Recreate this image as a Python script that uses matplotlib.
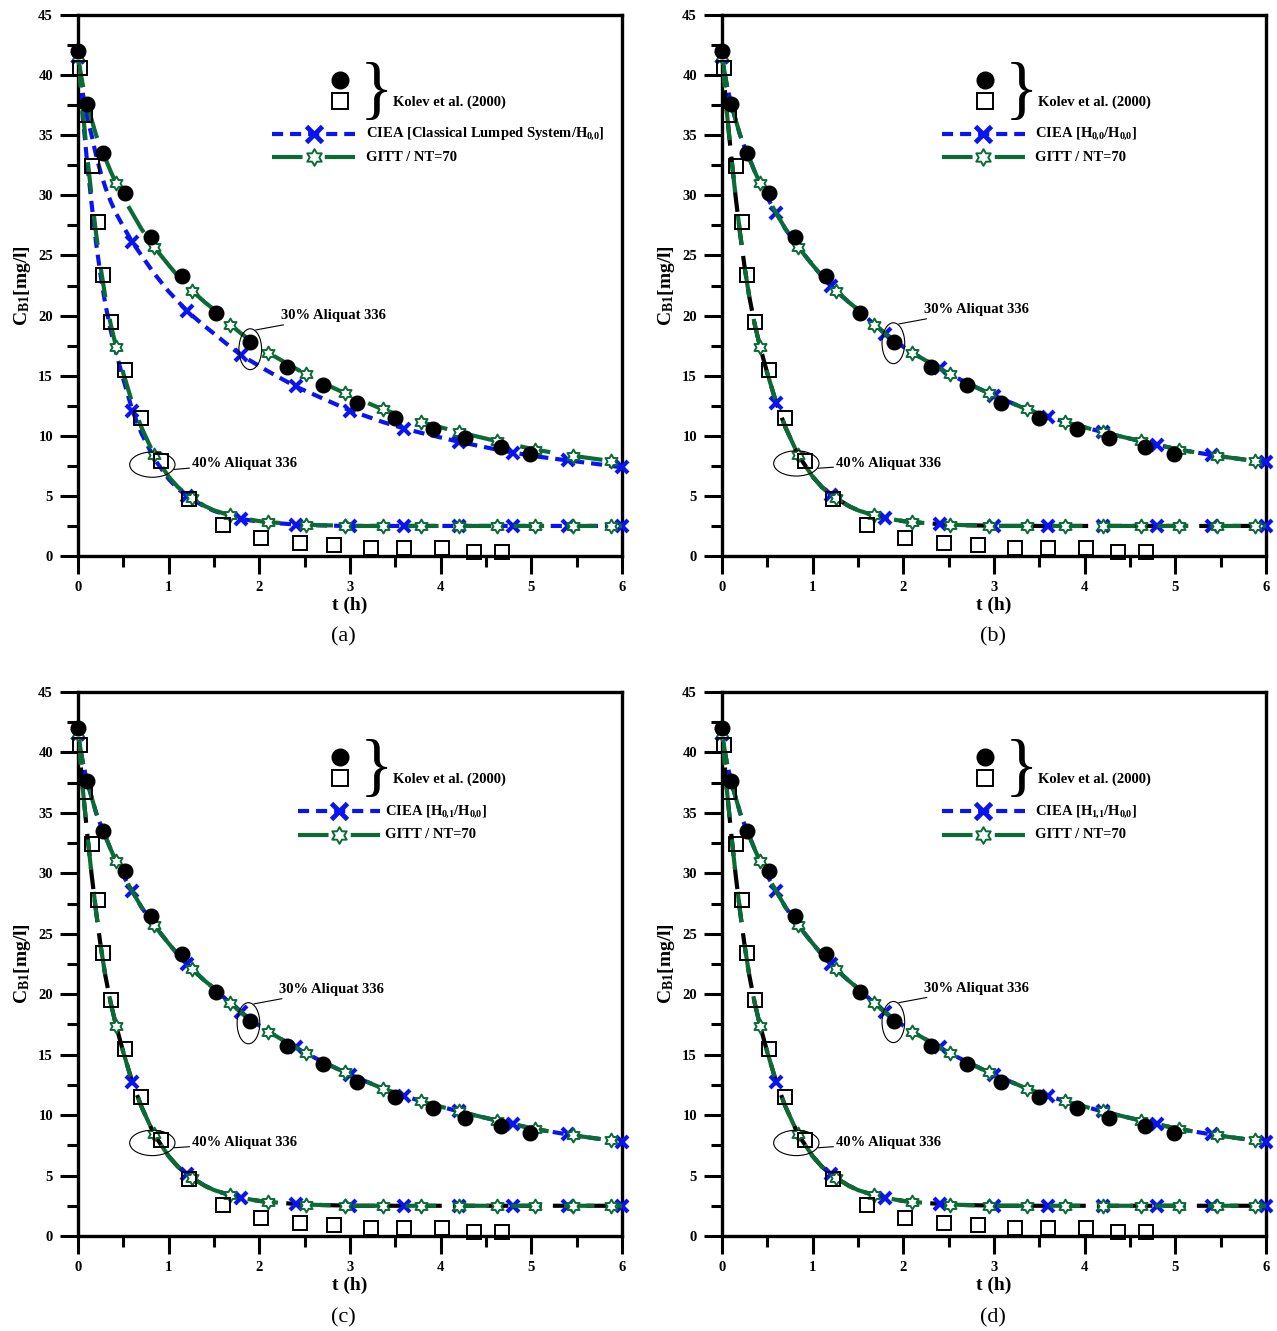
import numpy as np
import matplotlib
matplotlib.use('Agg')
import matplotlib.pyplot as plt
from matplotlib.path import Path
from matplotlib.patches import Ellipse

plt.rcParams['font.family'] = ['Liberation Serif', 'DejaVu Serif']
plt.rcParams['mathtext.fontset'] = 'custom'
plt.rcParams['mathtext.rm'] = 'Liberation Serif:bold'
plt.rcParams['mathtext.it'] = 'Liberation Serif:italic:bold'
plt.rcParams['mathtext.bf'] = 'Liberation Serif:bold'
plt.rcParams['lines.scale_dashes'] = False

# ---------------- data ----------------
# Kolev et al. (2000) experimental points
t_exp30 = [0.0, 0.1, 0.28, 0.52, 0.8, 1.15, 1.52, 1.9, 2.3, 2.7, 3.08, 3.5, 3.92, 4.27, 4.67, 4.98]
c_exp30 = [42.0, 37.6, 33.5, 30.2, 26.5, 23.3, 20.2, 17.8, 15.7, 14.2, 12.7, 11.5, 10.6, 9.8, 9.1, 8.5]
t_exp40 = [0.02, 0.08, 0.15, 0.22, 0.28, 0.36, 0.52, 0.7, 0.92, 1.22, 1.6, 2.02, 2.45, 2.82,
           3.23, 3.6, 4.02, 4.37, 4.68]
c_exp40 = [40.6, 36.7, 32.4, 27.8, 23.4, 19.5, 15.5, 11.5, 7.9, 4.7, 2.6, 1.5, 1.1, 0.9,
           0.7, 0.7, 0.7, 0.3, 0.3]

# model curves (time grid in h)
t_model = [0.0, 0.05, 0.1, 0.15, 0.2, 0.25, 0.3, 0.36, 0.42, 0.5, 0.6, 0.7, 0.84, 1.0, 1.1,
           1.2, 1.26, 1.4, 1.5, 1.68, 1.8, 2.0, 2.1, 2.4, 2.52, 2.7, 2.94, 3.0, 3.36, 3.6,
           3.78, 4.2, 4.62, 4.8, 5.04, 5.4, 5.46, 5.88, 6.0]
# GITT / NT=70 (also the CIEA H-formulations of panels b-d, which overlap it)
c30_gitt = [41.5, 39.3, 37.6, 36.3, 35.0, 34.0, 33.1, 32.0, 31.0, 29.8, 28.5, 27.2, 25.7, 24.2,
            23.3, 22.5, 22.05, 21.1, 20.5, 19.25, 18.5, 17.4, 16.9, 15.6, 15.1, 14.4, 13.55,
            13.35, 12.2, 11.6, 11.15, 10.3, 9.55, 9.25, 8.85, 8.4, 8.33, 7.9, 7.78]
c40_gitt = [41.5, 37.2, 33.4, 29.9, 26.8, 24.0, 21.6, 19.3, 17.4, 15.2, 12.7, 10.7, 8.4, 6.6,
            5.75, 5.1, 4.8, 4.15, 3.8, 3.37, 3.15, 2.9, 2.82, 2.65, 2.6, 2.56, 2.52, 2.5, 2.5,
            2.5, 2.5, 2.5, 2.5, 2.5, 2.5, 2.5, 2.5, 2.5, 2.5]
# CIEA classical lumped system (panel a)
c30_classical = [41.5, 38.6, 36.5, 35.0, 33.3, 31.9, 30.7, 29.5, 28.5, 27.4, 26.1, 25.0, 23.5,
                 22.0, 21.2, 20.4, 20.0, 19.1, 18.5, 17.4, 16.7, 15.8, 15.35, 14.1, 13.7, 13.1,
                 12.3, 12.1, 11.15, 10.6, 10.25, 9.5, 8.85, 8.6, 8.3, 7.95, 7.9, 7.5, 7.37]
c40_classical = [41.5, 36.8, 32.8, 29.3, 26.0, 23.3, 21.0, 18.8, 16.9, 14.7, 12.1, 10.2, 8.1,
                 6.4, 5.6, 5.0, 4.7, 4.1, 3.75, 3.33, 3.08, 2.85, 2.78, 2.62, 2.58, 2.54, 2.5,
                 2.5, 2.5, 2.5, 2.5, 2.5, 2.5, 2.5, 2.5, 2.5, 2.5, 2.5, 2.5]

x_ticks = [0, 1, 2, 3, 4, 5, 6]
y_ticks = [0, 5, 10, 15, 20, 25, 30, 35, 40, 45]
panel_tags = ['(a)', '(b)', '(c)', '(d)']
ciea_labels = ['CIEA [Classical Lumped System/H$_{0\\!,\\!0}$]',
               'CIEA [H$_{0\\!,\\!0}$/H$_{0\\!,\\!0}$]',
               'CIEA [H$_{0\\!,\\!1}$/H$_{0\\!,\\!0}$]',
               'CIEA [H$_{1\\!,\\!1}$/H$_{0\\!,\\!0}$]']
gitt_label = 'GITT / NT=70'
kolev_label = 'Kolev et al. (2000)'

# ---------------- styling ----------------
W, H = 1277, 1331
fig = plt.figure(figsize=(W / 100, H / 100), dpi=100)

blue = '#0a14f0'
green = '#0b6b35'

ang = np.linspace(0, 2 * np.pi, 13)[:-1] + np.pi / 2
rad = np.where(np.arange(12) % 2 == 0, 1.0, 0.577)
star_verts = np.column_stack([rad * np.cos(ang), rad * np.sin(ang)])
star_verts = np.vstack([star_verts, star_verts[:1]])
star_marker = Path(star_verts, closed=True)

star_times = [0.0, 0.42, 0.84, 1.26, 1.68, 2.1, 2.52, 2.94, 3.36, 3.78, 4.2, 4.62, 5.04, 5.46, 5.88]
x_times = [0.0, 0.6, 1.2, 1.8, 2.4, 3.0, 3.6, 4.2, 4.8, 5.4, 6.0]
star_idx = [i for i, t in enumerate(t_model) if t in star_times]
x_idx = [i for i, t in enumerate(t_model) if t in x_times]

blue_dash = (0, (8, 5))
black_dash = (0, (16, 8))
green_dash = (0, (22, 16))

# axes rectangles in pixels: left, top(45), width, height
rects = [(78, 15, 544, 541), (722, 15, 544, 541), (78, 692, 544, 544), (722, 692, 544, 544)]
tag_pos = [(343, 637), (993, 637), (343, 1318), (993, 1318)]
# legend anchors (axes fraction): marker x, line x0, x1, text x
leg_cfg = [(0.482, 0.357, 0.509, 0.529), (0.483, 0.404, 0.557, 0.575),
           (0.482, 0.404, 0.555, 0.564), (0.483, 0.404, 0.557, 0.575)]
# annotation geometry: ellipse center/size, line start, text pos
ann30 = [((1.90, 17.2), 0.25, 3.4, (1.96, 18.8), (2.24, 20.0)),
         ((1.89, 17.7), 0.25, 3.4, (1.95, 19.3), (2.23, 20.5)),
         ((1.88, 17.6), 0.25, 3.4, (1.94, 19.2), (2.22, 20.4)),
         ((1.89, 17.7), 0.25, 3.4, (1.95, 19.3), (2.23, 20.5))]
ann40 = [((0.82, 7.6), 0.50, 2.1, (1.06, 7.2), (1.26, 7.7)),
         ((0.82, 7.7), 0.50, 2.1, (1.06, 7.3), (1.26, 7.7)),
         ((0.82, 7.7), 0.50, 2.1, (1.06, 7.3), (1.26, 7.7)),
         ((0.82, 7.7), 0.50, 2.1, (1.06, 7.3), (1.26, 7.7))]

for k in range(4):
    lx, ty, w, h = rects[k]
    ax = fig.add_axes([lx / W, 1 - (ty + h) / H, w / W, h / H])
    ax.set_xlim(0, 6)
    ax.set_ylim(0, 45)

    if k == 0:
        c30_ciea, c40_ciea, c40_col = c30_classical, c40_classical, blue
    else:
        c30_ciea, c40_ciea, c40_col = c30_gitt, c40_gitt, 'black'

    # CIEA curves
    ax.plot(t_model, c30_ciea, color=blue, lw=3, ls=blue_dash, zorder=2)
    ax.plot(t_model, c40_ciea, color=c40_col, lw=3,
            ls=blue_dash if k == 0 else black_dash, zorder=2)
    for cc in (c30_ciea, c40_ciea):
        ax.plot(t_model, cc, ls='none', marker='x', ms=9, mew=3, color=blue,
                markevery=x_idx, zorder=3, clip_on=False)
    # GITT curves
    for cc in (c30_gitt, c40_gitt):
        ax.plot(t_model, cc, color=green, lw=3, ls=green_dash, zorder=4)
        ax.plot(t_model, cc, ls='none', marker=star_marker, ms=10, mew=1.4, mec=green,
                mfc='white', markevery=star_idx, zorder=5, clip_on=False)
    # experimental points
    ax.plot(t_exp30, c_exp30, ls='none', marker='o', ms=10.5, color='black', zorder=6,
            clip_on=False)
    ax.plot(t_exp40, c_exp40, ls='none', marker='s', ms=9.5, mfc='none', mec='black',
            mew=1.4, zorder=6, clip_on=False)

    # annotations
    for (cen, ew, eh, p0, pt), txt in ((ann30[k], '30% Aliquat 336'), (ann40[k], '40% Aliquat 336')):
        ax.add_patch(Ellipse(cen, ew, eh, fill=False, lw=0.8, color='black', zorder=7))
        ax.annotate(txt, xy=p0, xytext=pt, fontsize=10.5, fontweight='bold', va='center',
                    ha='left', arrowprops=dict(arrowstyle='-', lw=0.8, shrinkA=0, shrinkB=0,
                                               color='black'))

    # legend (hand-built: markers + brace + line samples)
    mx, x0, x1, tx = leg_cfg[k]
    fy0 = 1 - (80 - 15) / 541 if k < 2 else 1 - (757 - 692) / 544
    ax.plot([mx], [fy0], transform=ax.transAxes, marker='o', ms=12, color='black',
            clip_on=False)
    ax.plot([mx], [fy0 - 0.039], transform=ax.transAxes, marker='s', ms=11.5, mfc='none',
            mec='black', mew=1.4, clip_on=False)
    ax.text(mx + 0.067, fy0 - 0.026, '}', transform=ax.transAxes, fontsize=50,
            fontweight='normal', ha='center', va='center', family='Liberation Serif')
    ax.text(mx + 0.097, fy0 - 0.041, kolev_label, transform=ax.transAxes, fontsize=10.5,
            fontweight='bold', ha='left', va='center')
    y1 = fy0 - 0.100
    y2 = y1 - 0.043
    xm = (x0 + x1) / 2
    ax.plot([x0, xm, x1], [y1, y1, y1], transform=ax.transAxes, color=blue, lw=3,
            ls=blue_dash, marker='x', ms=11, mew=3.5, markevery=[1], clip_on=False)
    ax.plot([x0, xm, x1], [y2, y2, y2], transform=ax.transAxes, color=green, lw=3,
            ls=green_dash, marker=star_marker, ms=12, mew=1.4, mec=green, mfc='white',
            markevery=[1], clip_on=False)
    ax.text(tx, y1, ciea_labels[k], transform=ax.transAxes, fontsize=10.5,
            fontweight='bold', ha='left', va='center')
    ax.text(tx, y2, gitt_label, transform=ax.transAxes, fontsize=10.5,
            fontweight='bold', ha='left', va='center')

    # axes styling
    for sp in ax.spines.values():
        sp.set_linewidth(2.4)
    ax.set_xticks(x_ticks)
    ax.set_yticks(y_ticks)
    ax.set_xticks(np.arange(0.5, 6, 1.0), minor=True)
    ax.set_yticks(np.arange(2.5, 45, 5.0), minor=True)
    ax.tick_params(which='major', direction='out', length=13, width=2.2, labelsize=10.5,
                   pad=5)
    ax.tick_params(which='minor', direction='out', length=8, width=2.2)
    for lab in ax.get_xticklabels() + ax.get_yticklabels():
        lab.set_fontweight('bold')
    ax.set_xlabel('t (h)', fontsize=14, fontweight='bold', labelpad=2)
    ax.set_ylabel('C$_{\\mathrm{B1}}$[mg/l]', fontsize=14, fontweight='bold', labelpad=4)

    fig.text(tag_pos[k][0] / W, 1 - tag_pos[k][1] / H, panel_tags[k], fontsize=16,
             ha='center', va='center')

fig.savefig('out.png', dpi=100)
